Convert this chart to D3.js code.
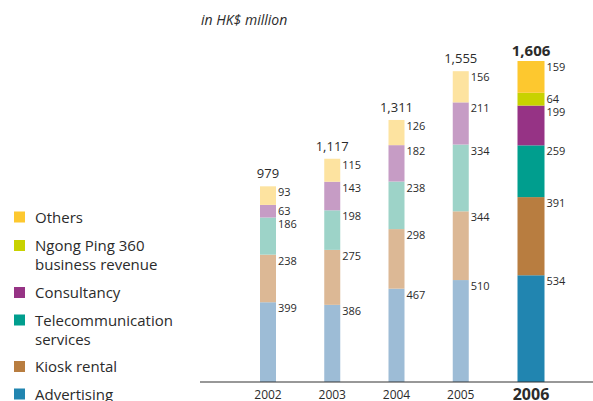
<!DOCTYPE html>
<html><head><meta charset="utf-8">
<script src="https://cdn.jsdelivr.net/npm/d3@7"></script>
<style>
body{margin:0;background:#fff;}
text{font-family:"Open Sans","Noto Sans",sans-serif;fill:#2b2b2b;}
</style></head>
<body><svg id="c" width="593" height="401"></svg>
<script>
const years = ["2002","2003","2004","2005","2006"];
const seriesNames = ["Advertising","Kiosk rental","Telecommunication services","Consultancy","Ngong Ping 360 business revenue","Others"];
const advertising = [399,386,467,510,534];
const kiosk = [238,275,298,344,391];
const telecom = [186,198,238,334,259];
const consultancy = [63,143,182,211,199];
const ngongPing = [0,0,0,0,64];
const others = [93,115,126,156,159];
const totals = ["979","1,117","1,311","1,555","1,606"];
const legendLabels = [["Others"],["Ngong Ping 360","business revenue"],["Consultancy"],["Telecommunication","services"],["Kiosk rental"],["Advertising"]];

const lightColors = ["#9dbcd6","#dcb895","#9dd3c8","#c69cc5","#d9dd80","#fde3a0"];
const darkColors = ["#2185b0","#b87d40","#009e8e","#963385","#c8d200","#fdc82f"];
const legendColors = ["#fdc82f","#c8d200","#963385","#009e8e","#b87d40","#2185b0"];

const svg = d3.select("#c");
const base = 382;
const y = d3.scaleLinear().domain([0,1606]).range([base, base-321]);
const x = d3.scalePoint().domain(years).range([268,525]);
const xc = yr => x(yr) + (yr==="2006" ? 6 : 0);
const bw = yr => yr==="2006" ? 27 : 16;

const table = years.map((yr,i)=>({year:yr, Advertising:advertising[i], "Kiosk rental":kiosk[i], "Telecommunication services":telecom[i], Consultancy:consultancy[i], "Ngong Ping 360 business revenue":ngongPing[i], Others:others[i]}));
const stack = d3.stack().keys(seriesNames)(table);

stack.forEach((layer,si)=>{
  layer.forEach((d,i)=>{
    const yr = years[i];
    const v = d[1]-d[0];
    if(v<=0) return;
    svg.append("rect")
      .attr("x", xc(yr)-bw(yr)/2).attr("width", bw(yr))
      .attr("y", y(d[1])).attr("height", y(d[0])-y(d[1]))
      .attr("fill", yr==="2006" ? darkColors[si] : lightColors[si]);
    svg.append("text")
      .attr("x", xc(yr)+bw(yr)/2+2).attr("y", y(d[1])+10)
      .attr("font-size", 11).text(v);
  });
});

// totals
years.forEach((yr,i)=>{
  const top = d3.sum(stack, l=>l[i][1]-l[i][0]);
  svg.append("text").attr("x", xc(yr)).attr("y", y(top)-(yr==="2006"?5:8))
    .attr("text-anchor","middle")
    .attr("font-size", yr==="2006"?15:13)
    .attr("font-weight", yr==="2006"?"bold":"normal")
    .text(totals[i]);
});

// axis
svg.append("line").attr("x1",200).attr("x2",593).attr("y1",base).attr("y2",base).attr("stroke","#333").attr("stroke-width",1.2);
years.forEach(yr=>{
  svg.append("text").attr("x", xc(yr)).attr("y", yr==="2006"?400:398.5)
    .attr("text-anchor","middle")
    .attr("font-size", yr==="2006"?16:12)
    .attr("font-weight", yr==="2006"?"bold":"normal")
    .text(yr);
});

// unit
svg.append("text").attr("x",201).attr("y",25).attr("font-size",14).attr("font-style","italic").text("in HK$ million");

// legend
const legendY = [211.5, 240, 287, 314.5, 361, 388.5];
legendLabels.forEach((lines,i)=>{
  svg.append("rect").attr("x",14).attr("y",legendY[i]).attr("width",11).attr("height",11).attr("fill",legendColors[i]);
  lines.forEach((ln,j)=>{
    svg.append("text").attr("x",35).attr("y",legendY[i]+11+j*19).attr("font-size",15).text(ln);
  });
});
</script></body></html>
